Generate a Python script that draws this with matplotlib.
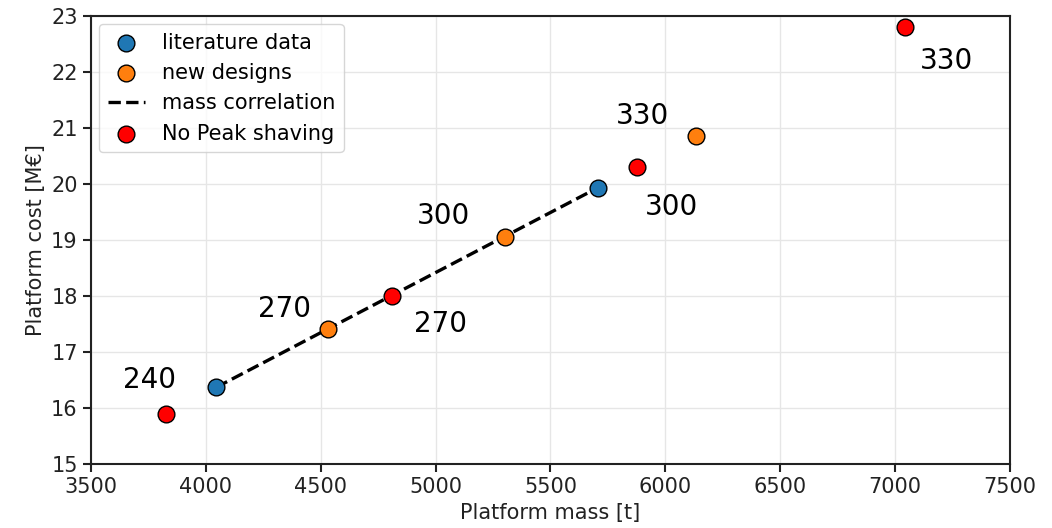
import matplotlib
matplotlib.use("Agg")
import matplotlib.pyplot as plt

# literature data
lit_mass = [4045, 5705]
lit_cost = [16.37, 19.93]
# new designs
new_mass = [4530, 5300, 6135]
new_cost = [17.41, 19.05, 20.85]
# no peak shaving
nps_mass = [3828, 4812, 5877, 7045]
nps_cost = [15.90, 18.00, 20.30, 22.80]

# labels (text, x, y)
label_text = ["240", "270", "270", "300", "330", "300", "330"]
label_x = [3640, 4225, 4905, 4920, 5785, 5910, 7110]
label_y = [16.35, 17.63, 17.35, 19.28, 21.07, 19.45, 22.05]

plt.rcParams.update({"font.family": "DejaVu Sans", "font.size": 15})

fig = plt.figure(figsize=(10.52, 5.28), dpi=100)
ax = fig.add_axes([0.0865, 0.121, 0.8735, 0.849])

ax.plot(lit_mass, lit_cost, "--", color="black", lw=2.4, label="mass correlation", zorder=2)
ax.scatter(lit_mass, lit_cost, s=145, color="#1f77b4", edgecolor="black", lw=1.0,
           label="literature data", zorder=3)
ax.scatter(new_mass, new_cost, s=145, color="#ff7f0e", edgecolor="black", lw=1.0,
           label="new designs", zorder=3)
ax.scatter(nps_mass, nps_cost, s=145, color="red", edgecolor="black", lw=1.0,
           label="No Peak shaving", zorder=3)

for t, x, y in zip(label_text, label_x, label_y):
    ax.text(x, y, t, fontsize=20, color="black")

ax.set_xlim(3500, 7500)
ax.set_ylim(15, 23)
ax.set_xlabel("Platform mass [t]", fontsize=15, color="#222222")
ax.set_ylabel("Platform cost [M€]", fontsize=15, color="#222222")
ax.grid(True, color="#e6e6e6", lw=1.0)
ax.set_axisbelow(True)
for sp in ax.spines.values():
    sp.set_linewidth(1.5)
    sp.set_color("#222222")
ax.tick_params(width=1.5, length=6, labelsize=15, labelcolor="#222222", color="#222222")

h, l = ax.get_legend_handles_labels()
order = [l.index(n) for n in ["literature data", "new designs", "mass correlation", "No Peak shaving"]]
ax.legend([h[i] for i in order], [l[i] for i in order], loc="upper left", fontsize=15,
          borderaxespad=0.4, labelspacing=0.5, handlelength=1.8)

fig.savefig("out.png", dpi=100)
